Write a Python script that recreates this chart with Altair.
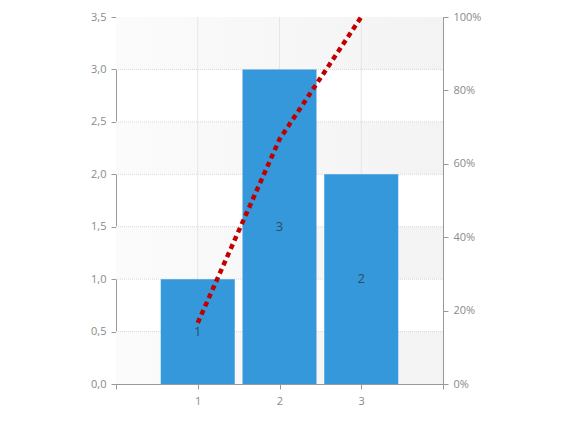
import altair as alt
import pandas as pd

categories = [1, 2, 3]
values = [1, 3, 2]
cum_pct = [0.1667, 0.6667, 1.0]

band_lo = [0.0, 1.0, 2.0, 3.0]
band_hi = [0.5, 1.5, 2.5, 3.5]
hgrid = [0.5, 1.0, 1.5, 2.0, 2.5, 3.0]
vgrid = [1, 2, 3]
y_ticks = [0, 0.5, 1.0, 1.5, 2.0, 2.5, 3.0, 3.5]
x_ticks = [0, 1, 2, 3, 4]
pct_ticks = [0, 0.2, 0.4, 0.6, 0.8, 1.0]

df = pd.DataFrame({"x": categories, "v": values, "half": [v / 2 for v in values], "cum": cum_pct})
bands = pd.DataFrame({"lo": band_lo, "hi": band_hi})
hg = pd.DataFrame({"y": hgrid})
vg = pd.DataFrame({"x": vgrid})

xs = alt.Scale(domain=[0, 4], nice=False, zero=False, padding=0)
ys = alt.Scale(domain=[0, 3.5], nice=False, padding=0)

x_axis = alt.Axis(values=x_ticks, title=None,
                  labelExpr="datum.value >= 1 && datum.value <= 3 ? datum.label : ''",
                  labelPadding=6)
y_axis = alt.Axis(values=y_ticks, title=None,
                  labelExpr="replace(format(datum.value, '.1f'), '.', ',')", labelPadding=5)

grad = alt.Gradient(gradient="linear", x1=0, x2=1, y1=0, y2=0,
                    stops=[alt.GradientStop(color="#fbfbfb", offset=0),
                           alt.GradientStop(color="#f3f3f3", offset=1)])

band_layer = alt.Chart(bands).mark_rect(color=grad).encode(
    x=alt.value(0), x2=alt.value(327),
    y=alt.Y("lo:Q", scale=ys, axis=y_axis), y2="hi:Q")

hgrid_layer = alt.Chart(hg).mark_rule(color="#d8d8d8", strokeDash=[1, 1], strokeWidth=1).encode(
    x=alt.value(0), x2=alt.value(327), y=alt.Y("y:Q", scale=ys, axis=y_axis))

vgrid_layer = alt.Chart(vg).mark_rule(color="#e6e6e6", strokeWidth=1).encode(
    x=alt.X("x:Q", scale=xs, axis=x_axis), y=alt.value(0), y2=alt.value(367))

bars = alt.Chart(df).mark_bar(color="#3498db", width=74).encode(
    x=alt.X("x:Q", scale=xs, axis=x_axis),
    y=alt.Y("v:Q", scale=ys, axis=y_axis))

labels = alt.Chart(df).mark_text(color="#34495e", fontSize=13, font="Open Sans").encode(
    x=alt.X("x:Q", scale=xs, axis=x_axis), y=alt.Y("half:Q", scale=ys, axis=y_axis), text="v:Q")

left = alt.layer(band_layer, hgrid_layer, vgrid_layer, bars, labels)

line = alt.Chart(df).mark_line(color="#c00000", strokeWidth=4.5, strokeDash=[5, 4]).encode(
    x=alt.X("x:Q", scale=xs, axis=x_axis),
    y=alt.Y("cum:Q", scale=alt.Scale(domain=[0, 1], nice=False, padding=0),
            axis=alt.Axis(orient="right", values=pct_ticks, format="%", title=None, labelPadding=5)))

chart = alt.layer(left, line).resolve_scale(y="independent").properties(
    width=327, height=367,
    autosize=alt.AutoSizeParams(type="none"),
    padding={"left": 108, "top": 9, "right": 120, "bottom": 40},
).configure_view(stroke="#aaaaaa", fill="white").configure_axis(
    grid=False, labelColor="#8a8a8a", labelFont="Open Sans", labelFontSize=11,
    domainColor="#999999", tickColor="#999999", tickSize=5,
)

chart.save("out.html", embed_options={"renderer": "svg", "actions": False})
